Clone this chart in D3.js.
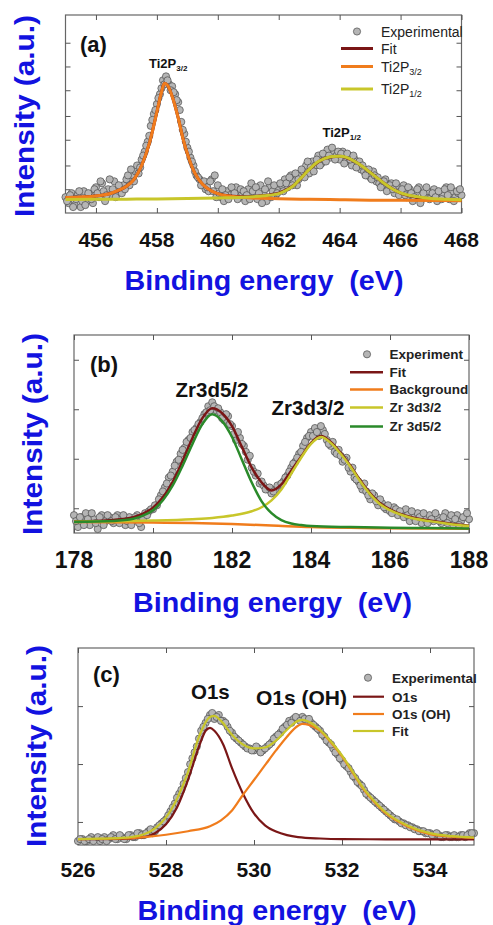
<!DOCTYPE html>
<html>
<head>
<meta charset="utf-8">
<script src="https://cdn.jsdelivr.net/npm/d3@7"></script>
<style>
  body { margin: 0; background: #fff; }
  text { font-family: "Liberation Sans", Arial, sans-serif; }
</style>
</head>
<body>
<script>
// ---------- data (arbitrary intensity units 0-100) ----------

// (a) Ti 2p
var tiTicks = [456, 458, 460, 462, 464, 466, 468];
var tiYTicks = [12, 24, 37, 49, 62, 74, 86];
var tiExp = [
  [455.0,8],[455.1,5],[455.2,10],[455.3,4],[455.4,9],[455.5,3],[455.6,11],[455.7,6],[455.8,9],[455.9,5],
  [456.0,13],[456.1,8],[456.2,15],[456.3,6],[456.4,12],[456.5,9],[456.6,16],[456.7,10],[456.8,12],[456.9,14],
  [457.0,17],[457.1,14],[457.2,19],[457.3,21],[457.4,20],[457.5,27],[457.6,31],[457.7,36],[457.8,44],[457.9,50],
  [458.0,55],[458.1,60],[458.2,67],[458.3,69],[458.4,65],[458.5,64],[458.6,60],[458.7,56],[458.8,46],[458.9,40],
  [459.0,33],[459.1,28],[459.2,24],[459.3,19],[459.4,17],[459.5,15],[459.6,12],[459.7,11],[459.8,17],[459.9,19],
  [460.0,14],[460.1,8],[460.2,6],[460.3,11],[460.4,9],[460.5,12],[460.6,13],[460.7,8],[460.8,10],[460.9,6],
  [461.0,12],[461.1,15],[461.2,9],[461.3,7],[461.4,14],[461.5,10],[461.6,6],[461.7,13],[461.8,11],[461.9,9],
  [462.0,12],[462.1,14],[462.2,17],[462.3,13],[462.4,19],[462.5,16],[462.6,14],[462.7,19],[462.8,21],[462.9,24],
  [463.0,20],[463.1,26],[463.2,24],[463.3,29],[463.4,25],[463.5,27],[463.6,32],[463.7,28],[463.8,30],[463.9,29],
  [464.0,27],[464.1,31],[464.2,26],[464.3,29],[464.4,24],[464.5,27],[464.6,25],[464.7,22],[464.8,21],[464.9,20],
  [465.0,18],[465.1,21],[465.2,16],[465.3,15],[465.4,14],[465.5,17],[465.6,12],[465.7,15],[465.8,10],[465.9,13],
  [466.0,11],[466.1,14],[466.2,8],[466.3,12],[466.4,6],[466.5,10],[466.6,13],[466.7,7],[466.8,9],[466.9,11],
  [467.0,8],[467.1,12],[467.2,6],[467.3,10],[467.4,9],[467.5,13],[467.6,7],[467.7,11],[467.8,8],[467.9,10],
  [468.0,9]
];
var tiExpMid = [
  [455.05,6],[455.15,9],[455.25,3],[455.35,7],[455.45,11],[455.55,6],[455.65,4],[455.75,10],[455.85,7],[455.95,12],
  [456.05,10],[456.15,16],[456.25,11],[456.35,9],[456.45,17],[456.55,12],[456.65,8],[456.75,14],[456.85,10],[456.95,12],
  [457.05,19],[457.15,22],[457.25,16],[457.35,24],[457.45,23],[457.55,29],[457.65,34],[457.75,39],[457.85,47],[457.95,52],
  [458.05,58],[458.15,63],[458.25,65],[458.35,67],[458.45,62],[458.55,61],[458.65,57],[458.75,52],[458.85,42],[458.95,36],
  [459.05,31],[459.15,26],[459.25,21],[459.35,18],[459.45,14],[459.55,16],[459.65,13],[459.75,16],[459.85,11],[459.95,8],
  [460.05,10],[460.15,12],[460.25,9],[460.35,7],[460.45,13],[460.55,10],[460.65,7],[460.75,12],[460.85,11],[460.95,9],
  [461.05,7],[461.15,11],[461.25,13],[461.35,10],[461.45,5],[461.55,12],[461.65,16],[461.75,8],[461.85,14],[461.95,10],
  [462.05,15],[462.15,11],[462.25,15],[462.35,18],[462.45,14],[462.55,20],[462.65,17],[462.75,22],[462.85,18],[462.95,26],
  [463.05,23],[463.15,21],[463.25,27],[463.35,24],[463.45,30],[463.55,26],[463.65,29],[463.75,33],[463.85,27],[463.95,31],
  [464.05,30],[464.15,25],[464.25,30],[464.35,27],[464.45,29],[464.55,23],[464.65,26],[464.75,24],[464.85,19],[464.95,22],
  [465.05,17],[465.15,19],[465.25,18],[465.35,13],[465.45,16],[465.55,11],[465.65,14],[465.75,12],[465.85,15],[465.95,9],
  [466.05,12],[466.15,9],[466.25,13],[466.35,10],[466.45,8],[466.55,12],[466.65,5],[466.75,10],[466.85,13],[466.95,7],
  [467.05,10],[467.15,8],[467.25,11],[467.35,7],[467.45,12],[467.55,9],[467.65,13],[467.75,6],[467.85,11],[467.95,12]
];
var tiFit = [[455,7.8],[456,8.6],[456.5,10],[457,13.5],[457.25,17],[457.5,24],[457.75,35],[458,51],[458.15,61],
  [458.25,65.5],[458.35,64.5],[458.5,59],[458.7,48],[458.85,38],[459,30],[459.25,20],[459.5,14.5],[459.75,11.5],
  [460,9.8],[460.5,8.5],[461,8.2],[461.5,8.8],[462,10],[462.5,14],[463,22],[463.5,27.5],[464,28.7],[464.5,26],
  [465,20.5],[465.5,14.5],[466,10],[466.5,8],[467,6.8],[467.5,6.4],[468,6.3]];
var tiP32 = [[455,7.8],[455.5,8.1],[456,8.6],[456.5,10],[456.75,11.5],[457,13.5],[457.25,17],[457.5,24],[457.75,35],
  [458,51],[458.15,61],[458.25,65.5],[458.35,64.5],[458.5,59],[458.7,48],[458.85,38],[459,30],[459.25,20],
  [459.5,14.5],[459.75,11.5],[460,9.8],[460.5,8.3],[461,7.7],[462,7.2],[463,6.9],[464,6.7],[465,6.5],
  [466,6.4],[467,6.3],[468,6.2]];
var tiP12 = [[455,6.8],[456,6.9],[457,7],[458,7.1],[459,7.3],[460,7.6],[461,8.1],[461.5,8.7],[462,9.8],[462.25,11.5],
  [462.5,14],[462.75,18],[463,22],[463.25,25.5],[463.5,27.5],[463.75,28.5],[464,28.7],[464.25,28],[464.5,26],
  [464.75,23.5],[465,20.5],[465.25,17.5],[465.5,14.5],[465.75,12],[466,10.2],[466.5,8.3],[467,7.3],[467.5,6.9],[468,6.7]];

// (b) Zr 3d
var zrTicks = [178, 180, 182, 184, 186, 188];
var zrYTicks = [12.5, 37.5, 62.5, 87.5];
var zrExp = [
  [178.0,9],[178.1,3],[178.2,8],[178.3,10],[178.4,4],[178.5,7],[178.6,2],[178.7,9],[178.8,6],[178.9,8],
  [179.0,5],[179.1,9],[179.2,7],[179.3,4],[179.4,8],[179.5,6],[179.6,9],[179.7,3],[179.8,10],[179.9,11],
  [180.0,12],[180.1,14],[180.2,19],[180.3,23],[180.4,28],[180.5,31],[180.6,36],[180.7,40],[180.8,43],[180.9,47],
  [181.0,51],[181.1,53],[181.2,56],[181.3,60],[181.4,64],[181.5,66],[181.6,62],[181.7,61],[181.8,57],[181.9,59],
  [182.0,54],[182.1,47],[182.2,48],[182.3,44],[182.4,37],[182.5,33],[182.6,29],[182.7,25],[182.8,24],[182.9,22],
  [183.0,20],[183.1,22],[183.2,24],[183.3,26],[183.4,29],[183.5,33],[183.6,36],[183.7,40],[183.8,44],[183.9,48],
  [184.0,51],[184.1,53],[184.2,49],[184.3,52],[184.4,47],[184.5,44],[184.6,41],[184.7,42],[184.8,36],[184.9,38],
  [185.0,31],[185.1,28],[185.2,26],[185.3,22],[185.4,21],[185.5,17],[185.6,19],[185.7,14],[185.8,15],[185.9,12],
  [186.0,11],[186.1,13],[186.2,9],[186.3,10],[186.4,12],[186.5,6],[186.6,8],[186.7,10],[186.8,5],[186.9,7],
  [187.0,9],[187.1,6],[187.2,8],[187.3,5],[187.4,10],[187.5,7],[187.6,4],[187.7,9],[187.8,6],[187.9,8],
  [188.0,7]
];
var zrExpMid = [
  [178.05,6],[178.15,8],[178.25,4],[178.35,7],[178.45,10],[178.55,5],[178.65,8],[178.75,4],[178.85,9],[178.95,6],
  [179.05,8],[179.15,5],[179.25,9],[179.35,6],[179.45,4],[179.55,8],[179.65,5],[179.75,7],[179.85,9],[179.95,12],
  [180.05,14],[180.15,17],[180.25,21],[180.35,25],[180.45,29],[180.55,34],[180.65,37],[180.75,42],[180.85,46],[180.95,48],
  [181.05,52],[181.15,55],[181.25,58],[181.35,61],[181.45,62],[181.55,64],[181.65,63],[181.75,58],[181.85,60],[181.95,55],
  [182.05,50],[182.15,51],[182.25,45],[182.35,41],[182.45,39],[182.55,31],[182.65,30],[182.75,26],[182.85,22],[182.95,23],
  [183.05,21],[183.15,24],[183.25,25],[183.35,28],[183.45,31],[183.55,35],[183.65,38],[183.75,41],[183.85,46],[183.95,49],
  [184.05,49],[184.15,51],[184.25,54],[184.35,50],[184.45,45],[184.55,46],[184.65,40],[184.75,39],[184.85,37],[184.95,33],
  [185.05,33],[185.15,27],[185.25,24],[185.35,25],[185.45,19],[185.55,20],[185.65,16],[185.75,17],[185.85,13],[185.95,14],
  [186.05,10],[186.15,12],[186.25,11],[186.35,8],[186.45,9],[186.55,11],[186.65,6],[186.75,8],[186.85,10],[186.95,5],
  [187.05,7],[187.15,10],[187.25,6],[187.35,8],[187.45,5],[187.55,9],[187.65,7],[187.75,4],[187.85,8],[187.95,10]
];
var zrFit = [[178,5.8],[179,6.6],[179.5,8],[179.75,9.8],[180,12.8],[180.25,18],[180.5,26],[180.75,36.5],[181,48],
  [181.25,58],[181.5,63],[181.75,60.5],[182,54],[182.25,43.5],[182.5,33],[182.75,25.5],[183,21.5],[183.25,24.5],
  [183.5,31.5],[183.75,38.5],[184,45.5],[184.25,49],[184.5,46],[184.75,40.5],[185,34],[185.25,26.5],[185.5,20],
  [185.75,15],[186,12],[186.5,8.2],[187,6.3],[187.5,4.8],[188,3.7]];
var zrBackground = [[178,5.6],[180,5.3],[181,5],[182,4.5],[183,3.8],[184,3],[185,2.6],[186,2.4],[188,2.2]];
var zr3d32 = [[178,5.7],[179,5.9],[180,6.3],[181,7],[181.5,7.6],[182,8.8],[182.5,11],[182.75,13],[183,16.5],
  [183.25,22],[183.5,30],[183.75,38],[184,45],[184.25,48.5],[184.5,45.5],[184.75,40],[185,33.5],[185.25,26],
  [185.5,19.5],[185.75,14.5],[186,11.5],[186.5,7.8],[187,6],[187.5,4.6],[188,3.5]];
var zr3d52 = [[178,5.6],[179,6.1],[179.5,7.2],[179.75,8.8],[180,11.5],[180.25,16.5],[180.5,24],[180.75,34],[181,45],
  [181.25,55],[181.5,60],[181.75,56.5],[182,48.5],[182.25,37],[182.5,25.5],[182.75,16],[183,10],[183.25,6.5],
  [183.5,4.8],[183.75,4],[184,3.5],[185,3],[186,2.7],[187,2.5],[188,2.3]];

// (c) O 1s
var oTicks = [526, 528, 530, 532, 534];
var oYTicks = [11.7, 41.1, 70.5];
var oExp = [
  [526.0,2],[526.1,3],[526.2,2],[526.3,4],[526.4,3],[526.5,2],[526.6,4],[526.7,3],[526.8,5],[526.9,3],
  [527.0,4],[527.1,3],[527.2,5],[527.3,4],[527.4,6],[527.5,5],[527.6,7],[527.7,6],[527.8,9],[527.9,11],
  [528.0,13],[528.1,17],[528.2,21],[528.3,26],[528.4,31],[528.5,37],[528.6,44],[528.7,50],[528.8,58],[528.9,62],
  [529.0,66],[529.1,64],[529.2,66],[529.3,63],[529.4,60],[529.5,57],[529.6,54],[529.7,52],[529.8,50],[529.9,49],
  [530.0,48],[530.1,49],[530.2,48],[530.3,50],[530.4,52],[530.5,55],[530.6,57],[530.7,60],[530.8,63],[530.9,64],
  [531.0,64],[531.1,65],[531.2,63],[531.3,62],[531.4,60],[531.5,58],[531.6,55],[531.7,52],[531.8,49],[531.9,46],
  [532.0,43],[532.1,40],[532.2,37],[532.3,34],[532.4,31],[532.5,28],[532.6,25],[532.7,23],[532.8,21],[532.9,19],
  [533.0,17],[533.1,15],[533.2,13],[533.3,12],[533.4,11],[533.5,10],[533.6,9],[533.7,8],[533.8,7],[533.9,6],
  [534.0,6],[534.1,5],[534.2,5],[534.3,4],[534.4,5],[534.5,4],[534.6,4],[534.7,5],[534.8,4],[534.9,6],
  [535.0,6]
];
var oExpMid = [
  [526.05,3],[526.15,2],[526.25,3],[526.35,2],[526.45,4],[526.55,3],[526.65,2],[526.75,4],[526.85,3],[526.95,5],
  [527.05,3],[527.15,5],[527.25,4],[527.35,6],[527.45,5],[527.55,6],[527.65,8],[527.75,7],[527.85,10],[527.95,12],
  [528.05,15],[528.15,19],[528.25,24],[528.35,28],[528.45,34],[528.55,41],[528.65,47],[528.75,54],[528.85,60],[528.95,64],
  [529.05,67],[529.15,65],[529.25,63],[529.35,62],[529.45,58],[529.55,55],[529.65,53],[529.75,51],[529.85,49],[529.95,48],
  [530.05,50],[530.15,47],[530.25,49],[530.35,51],[530.45,54],[530.55,56],[530.65,59],[530.75,61],[530.85,62],[530.95,65],
  [531.05,63],[531.15,64],[531.25,64],[531.35,61],[531.45,59],[531.55,56],[531.65,53],[531.75,51],[531.85,47],[531.95,44],
  [532.05,41],[532.15,39],[532.25,35],[532.35,32],[532.45,30],[532.55,26],[532.65,24],[532.75,22],[532.85,20],[532.95,18],
  [533.05,16],[533.15,14],[533.25,13],[533.35,11],[533.45,10],[533.55,9],[533.65,8],[533.75,7],[533.85,7],[533.95,6],
  [534.05,5],[534.15,6],[534.25,4],[534.35,5],[534.45,4],[534.55,5],[534.65,4],[534.75,5],[534.85,5],[534.95,6]
];
var oO1s = [[526,3],[527,3.1],[527.5,4],[527.75,6],[528,10.5],[528.25,19],[528.5,33],[528.75,50],[528.9,58],
  [529,59.5],[529.1,58],[529.3,51],[529.5,39],[529.75,26],[530,16],[530.25,10],[530.5,6.8],[530.75,5],[531,4],
  [531.5,3.3],[532,3],[533,2.9],[535,2.9]];
var oOH = [[526,3],[527,3.3],[527.5,4],[528,5.2],[528.5,7],[529,9.5],[529.25,12.5],[529.5,17.5],[529.75,25.5],
  [530,33],[530.25,40.5],[530.5,48],[530.75,55],[531,60.5],[531.1,61.5],[531.25,61],[531.5,58],[531.75,52],
  [532,45],[532.25,36.5],[532.5,28],[532.75,21.5],[533,16],[533.5,9.3],[534,5.5],[534.5,4.2],[535,3.6]];
var oFit = [[526,3],[526.5,3.2],[527,3.6],[527.25,4.2],[527.5,5.5],[527.75,8.5],[528,14],[528.25,23.5],[528.5,37],
  [528.75,55],[529,65],[529.1,65.5],[529.25,63],[529.5,56],[529.75,51],[530,49],[530.25,49.5],[530.5,53],
  [530.75,58.5],[531,63],[531.1,63.5],[531.25,62.5],[531.5,58.5],[531.75,52.5],[532,45.5],[532.25,37],
  [532.5,28.5],[532.75,22],[533,16.5],[533.5,9.8],[534,6],[534.5,4.5],[535,3.8]];

// ---------- drawing ----------
var RED = "#7a1616", ORANGE = "#f07c1c", YELLOW = "#c8c62a", GREEN = "#2a8a2a", BLUE = "#1212e0";

var svg = d3.select("body").append("svg").attr("width", 493).attr("height", 925);
svg.append("rect").attr("width", 493).attr("height", 925).attr("fill", "#fff");

function drawPanel(p) {
    var x = d3.scaleLinear().domain(p.xDomain).range([p.left, p.right]);
    var y = d3.scaleLinear().domain([0, 100]).range([p.bottom, p.top]);
    var g = svg.append("g");

    // frame
    g.append("rect").attr("x", p.left).attr("y", p.top)
        .attr("width", p.right - p.left).attr("height", p.bottom - p.top)
        .attr("fill", "none").attr("stroke", "#666").attr("stroke-width", 1.2);

    // inward ticks on all four sides
    var axes = [
        [d3.axisBottom(x).tickValues(p.xTicks), "translate(0," + p.bottom + ")"],
        [d3.axisTop(x).tickValues(p.xTicks), "translate(0," + p.top + ")"],
        [d3.axisLeft(y).tickValues(p.yTicks), "translate(" + p.left + ",0)"],
        [d3.axisRight(y).tickValues(p.yTicks), "translate(" + p.right + ",0)"]
    ];
    axes.forEach(function (a) {
        var ax = g.append("g").attr("transform", a[1])
            .call(a[0].tickSize(-5).tickFormat(""));
        ax.select(".domain").remove();
        ax.selectAll("line").attr("stroke", "#555");
    });

    // tick labels
    g.selectAll(".xlab").data(p.xTicks).enter().append("text")
        .attr("x", function (d) { return x(d); })
        .attr("y", p.labelY)
        .attr("text-anchor", "middle")
        .attr("font-size", p.labelSize + "px")
        .attr("font-weight", "bold")
        .attr("fill", "#111")
        .text(function (d) { return d; });

    // axis titles
    g.append("text").attr("x", p.xTitleX).attr("y", p.xTitleY)
        .attr("text-anchor", "middle").attr("font-size", "27px").attr("font-weight", "bold")
        .attr("fill", BLUE).style("white-space", "pre")
        .attr("textLength", 279).attr("lengthAdjust", "spacingAndGlyphs")
        .text("Binding energy  (eV)");
    g.append("text").attr("transform", "translate(" + p.yTitleX + "," + p.yTitleY + ") rotate(-90)")
        .attr("text-anchor", "middle").attr("font-size", "28px").attr("font-weight", "bold")
        .attr("fill", BLUE)
        .attr("textLength", 202).attr("lengthAdjust", "spacingAndGlyphs")
        .text("Intensity (a.u.)");

    // experimental points (under the lines)
    g.selectAll(".pt").data(p.exp).enter().append("circle")
        .attr("cx", function (d) { return x(d[0]); })
        .attr("cy", function (d) { return y(d[1]); })
        .attr("r", 3.6)
        .attr("fill", "#b5b5b5").attr("stroke", "#4a4a4a").attr("stroke-width", 0.7);

    var line = d3.line().curve(d3.curveMonotoneX)
        .x(function (d) { return x(d[0]); })
        .y(function (d) { return y(d[1]); });

    p.curves.forEach(function (c) {
        g.append("path").datum(c.data).attr("d", line)
            .attr("fill", "none").attr("stroke", c.color).attr("stroke-width", p.lineWidth);
    });

    // panel letter
    g.append("text").attr("x", p.tagX).attr("y", p.tagY)
        .attr("font-size", "22px").attr("font-weight", "bold").attr("fill", "#111")
        .text(p.tag);

    // peak labels
    p.peaks.forEach(function (pk) {
        var t = g.append("text").attr("x", pk.x).attr("y", pk.y)
            .attr("font-size", pk.size + "px").attr("font-weight", "bold").attr("fill", "#111");
        t.append("tspan").text(pk.text);
        if (pk.sub) {
            t.append("tspan").attr("font-size", (pk.size * 0.62) + "px").attr("dy", 3).text(pk.sub);
        }
    });

    // legend
    var lg = p.legend;
    lg.rows.forEach(function (r, i) {
        var yy = lg.ys[i];
        if (r.marker) {
            g.append("circle").attr("cx", lg.markerX).attr("cy", yy).attr("r", 3.6)
                .attr("fill", "#b5b5b5").attr("stroke", "#4a4a4a").attr("stroke-width", 0.7);
        } else {
            g.append("line").attr("x1", lg.x1).attr("x2", lg.x2).attr("y1", yy).attr("y2", yy)
                .attr("stroke", r.color).attr("stroke-width", p.lineWidth);
        }
        var t = g.append("text").attr("x", lg.textX).attr("y", yy + lg.size * 0.36)
            .attr("font-size", lg.size + "px").attr("font-weight", lg.weight).attr("fill", "#222");
        t.append("tspan").text(r.label);
        if (r.sub) {
            t.append("tspan").attr("font-size", (lg.size * 0.65) + "px").attr("dy", 3).text(r.sub);
        }
    });
}

drawPanel({
    xDomain: [455, 468], xTicks: tiTicks, yTicks: tiYTicks, exp: tiExp.concat(tiExpMid),
    left: 65.5, right: 461.5, top: 15, bottom: 213,
    labelY: 246.5, labelSize: 21, xTitleX: 264, xTitleY: 290, yTitleX: 34, yTitleY: 116,
    lineWidth: 3,
    curves: [{data: tiFit, color: RED}, {data: tiP32, color: ORANGE}, {data: tiP12, color: YELLOW}],
    tag: "(a)", tagX: 80, tagY: 52,
    peaks: [{text: "Ti2P", sub: "3/2", x: 149, y: 68, size: 13},
            {text: "Ti2P", sub: "1/2", x: 322.5, y: 136.5, size: 13}],
    legend: {markerX: 357, x1: 341, x2: 373, textX: 381, size: 14, weight: "normal",
        ys: [31.5, 48.5, 66.5, 89],
        rows: [{marker: true, label: "Experimental"}, {label: "Fit", color: RED},
               {label: "Ti2P", sub: "3/2", color: ORANGE}, {label: "Ti2P", sub: "1/2", color: YELLOW}]}
});

drawPanel({
    xDomain: [178, 188], xTicks: zrTicks, yTicks: zrYTicks, exp: zrExp.concat(zrExpMid),
    left: 74, right: 469, top: 335, bottom: 533,
    labelY: 568, labelSize: 23, xTitleX: 272.5, xTitleY: 612, yTitleX: 41.5, yTitleY: 434,
    lineWidth: 2.5,
    curves: [{data: zrBackground, color: ORANGE}, {data: zrFit, color: RED},
             {data: zr3d32, color: YELLOW}, {data: zr3d52, color: GREEN}],
    tag: "(b)", tagX: 90, tagY: 372,
    peaks: [{text: "Zr3d5/2", x: 175.5, y: 397, size: 20.5},
            {text: "Zr3d3/2", x: 271.5, y: 415, size: 20.5}],
    legend: {markerX: 367, x1: 350, x2: 383, textX: 389.5, size: 13.5, weight: "bold",
        ys: [354.3, 372.3, 389.5, 407.5, 426.5],
        rows: [{marker: true, label: "Experiment"}, {label: "Fit", color: RED},
               {label: "Background", color: ORANGE}, {label: "Zr 3d3/2", color: YELLOW},
               {label: "Zr 3d5/2", color: GREEN}]}
});

drawPanel({
    xDomain: [526, 535], xTicks: oTicks, yTicks: oYTicks, exp: oExp.concat(oExpMid),
    left: 78, right: 474, top: 648, bottom: 845,
    labelY: 877, labelSize: 21, xTitleX: 277, xTitleY: 920, yTitleX: 46, yTitleY: 746,
    lineWidth: 2.2,
    curves: [{data: oO1s, color: RED}, {data: oOH, color: ORANGE}, {data: oFit, color: YELLOW}],
    tag: "(c)", tagX: 93, tagY: 682,
    peaks: [{text: "O1s", x: 191, y: 699, size: 20.5},
            {text: "O1s (OH)", x: 256, y: 705, size: 21}],
    legend: {markerX: 368, x1: 353, x2: 384, textX: 392, size: 13.5, weight: "bold",
        ys: [677.7, 696.7, 714, 731],
        rows: [{marker: true, label: "Experimental"}, {label: "O1s", color: RED},
               {label: "O1s (OH)", color: ORANGE}, {label: "Fit", color: YELLOW}]}
});
</script>
</body>
</html>
